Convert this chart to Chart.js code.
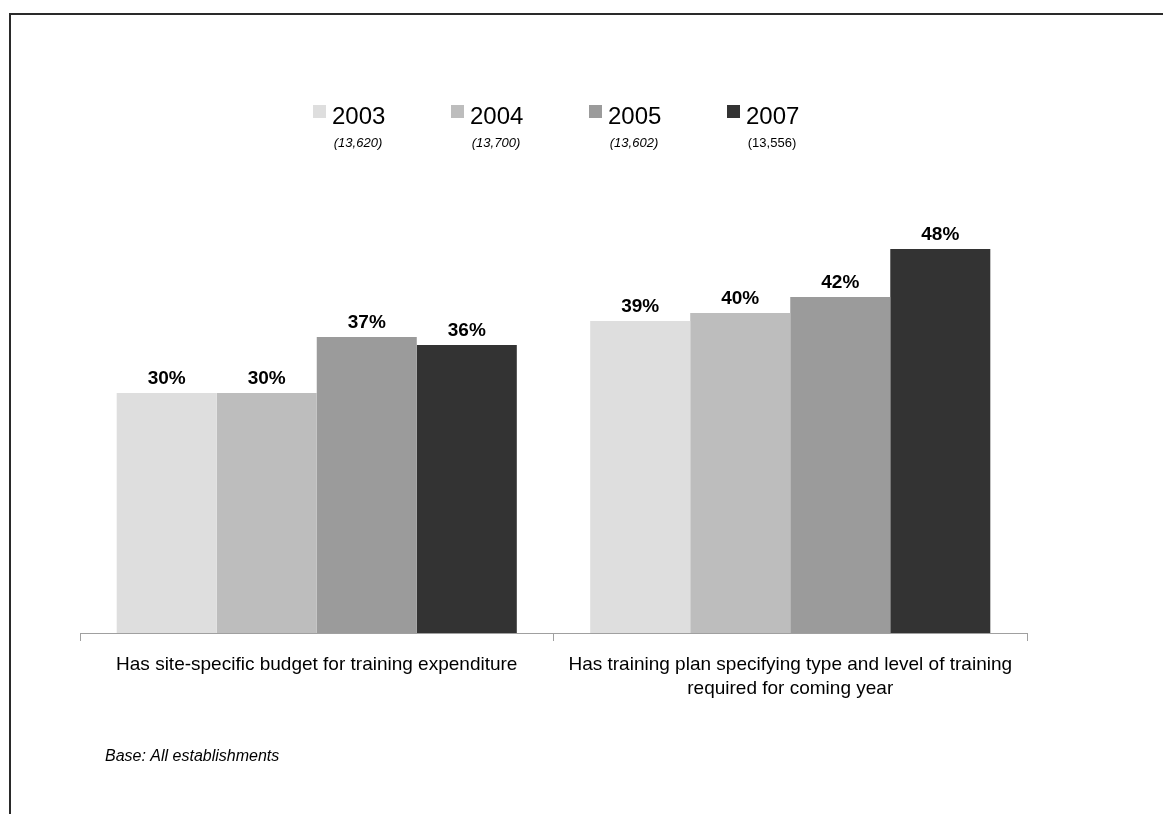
<!DOCTYPE html>
<html>
<head>
<meta charset="utf-8">
<script src="https://cdn.jsdelivr.net/npm/chart.js@4/dist/chart.umd.min.js"></script>
<style>
  html, body { margin: 0; padding: 0; background: #fff; }
  #wrap { position: relative; width: 1163px; height: 814px; overflow: hidden; }
  #frame { position: absolute; left: 9px; top: 13px; width: 1200px; height: 900px;
           border-top: 2px solid #2a2a2a; border-left: 2px solid #2a2a2a; }
  canvas { position: absolute; left: 0; top: 0; }
</style>
</head>
<body>
<div id="wrap">
  <div id="frame"></div>
  <canvas id="chart" width="1163" height="814"></canvas>
</div>
<script>
// Categories and survey values (% of establishments)
const categories = [
  ["Has site-specific budget for training expenditure"],
  ["Has training plan specifying type and level of training", "required for coming year"]
];
const years = ["2003", "2004", "2005", "2007"];
const bases = ["(13,620)", "(13,700)", "(13,602)", "(13,556)"];
const baseItalic = [true, true, true, false];
const values2003 = [30, 39];
const values2004 = [30, 40];
const values2005 = [37, 42];
const values2007 = [36, 48];
const colors = ["#dedede", "#bdbdbd", "#9b9b9b", "#333333"];

const FONT = "'Liberation Sans', Arial, Helvetica, sans-serif";

// Legend drawn across the top, with sample base sizes under each year
const yearLegend = {
  id: "yearLegend",
  afterDraw(chart) {
    const ctx = chart.ctx;
    ctx.save();
    const startX = 313, step = 138;
    years.forEach((y, i) => {
      const x = startX + i * step;
      ctx.fillStyle = colors[i];
      ctx.fillRect(x, 105, 13, 13);
      ctx.fillStyle = "#000";
      ctx.font = "24px " + FONT;
      ctx.textAlign = "left";
      ctx.textBaseline = "alphabetic";
      ctx.fillText(y, x + 19, 124);
      ctx.font = (baseItalic[i] ? "italic " : "") + "13px " + FONT;
      ctx.textAlign = "center";
      ctx.fillText(bases[i], x + 45, 147);
    });
    ctx.font = "italic 16px " + FONT;
    ctx.textAlign = "left";
    ctx.fillText("Base: All establishments", 105, 761);
    ctx.restore();
  }
};

// Percentage labels above every bar
const barLabels = {
  id: "barLabels",
  afterDatasetsDraw(chart) {
    const ctx = chart.ctx;
    ctx.save();
    ctx.font = "bold 19px " + FONT;
    ctx.fillStyle = "#000";
    ctx.textAlign = "center";
    ctx.textBaseline = "alphabetic";
    chart.data.datasets.forEach((ds, di) => {
      chart.getDatasetMeta(di).data.forEach((bar, i) => {
        ctx.fillText(ds.data[i] + "%", bar.x, bar.y - 9);
      });
    });
    ctx.restore();
  }
};

const seriesValues = [values2003, values2004, values2005, values2007];

new Chart(document.getElementById("chart"), {
  type: "bar",
  data: {
    labels: categories,
    datasets: years.map((y, i) => ({
      label: y,
      data: seriesValues[i],
      backgroundColor: colors[i],
      borderWidth: 0
    }))
  },
  options: {
    responsive: false,
    animation: false,
    devicePixelRatio: 1,
    layout: { padding: { left: 80, right: 136, top: 153, bottom: 0 } },
    categoryPercentage: 0.845,
    barPercentage: 1,
    plugins: { legend: { display: false }, tooltip: { enabled: false } },
    scales: {
      y: { display: false, min: 0, max: 60 },
      x: {
        afterFit(scale) { scale.height = 181; },
        border: { color: "#a0a0a0", width: 1 },
        grid: { offset: true, drawOnChartArea: false, drawTicks: true, tickLength: 8, color: "#a0a0a0" },
        ticks: { color: "#000", font: { family: FONT, size: 19, lineHeight: 1.25 }, padding: 12, maxRotation: 0, autoSkip: false }
      }
    }
  },
  plugins: [yearLegend, barLabels]
});
</script>
</body>
</html>
